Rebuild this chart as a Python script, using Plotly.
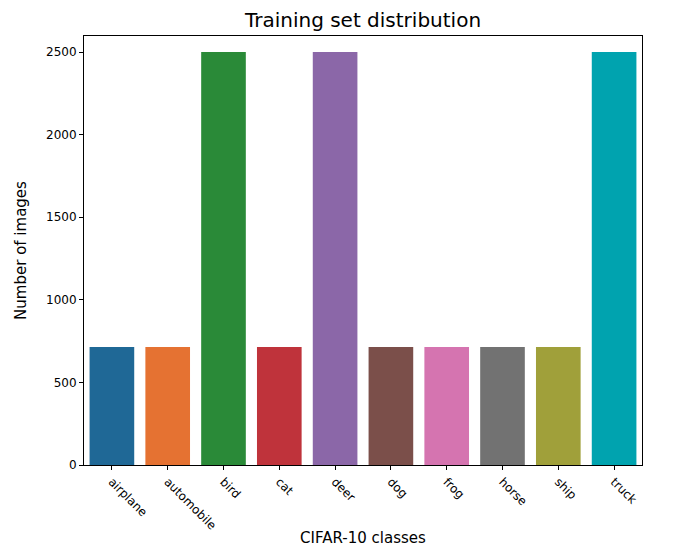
import plotly.graph_objects as go

classes = ["airplane","automobile","bird","cat","deer","dog","frog","horse","ship","truck"]
counts = [714,714,2500,714,2500,714,714,714,714,2500]
colors = ["#1f6896","#e57232","#2a8a38","#bf333b","#8b67a8","#7b4f4a","#d574b0","#727272","#a0a03a","#00a3af"]

fig = go.Figure(go.Bar(x=classes, y=counts, marker_color=colors, marker_line_width=0))
fig.update_layout(
    width=690, height=547, margin=dict(l=76, r=56, t=28, b=90, autoexpand=False),
    plot_bgcolor="white", paper_bgcolor="white",
    font=dict(family="DejaVu Sans", color="black", size=12),
    title=dict(text="Training set distribution", x=0.5, xref="paper", xanchor="center", y=0.979, yanchor="middle", font=dict(size=20)),
    bargap=0.2, showlegend=False,
)
fig.update_xaxes(title=dict(text="CIFAR-10 classes", font=dict(size=15), standoff=0), tickangle=45, automargin=False,
                 showline=True, linecolor="black", mirror=True, ticks="outside", ticklen=4, tickcolor="black", showgrid=False)
fig.update_yaxes(title=dict(text="Number of images", font=dict(size=15)), range=[0,2597], tickvals=[0,500,1000,1500,2000,2500],
                 automargin=False, showline=True, linecolor="black", mirror=True, ticks="outside", ticklen=4, tickcolor="black", showgrid=False, zeroline=False)
fig.write_html("out.html")
